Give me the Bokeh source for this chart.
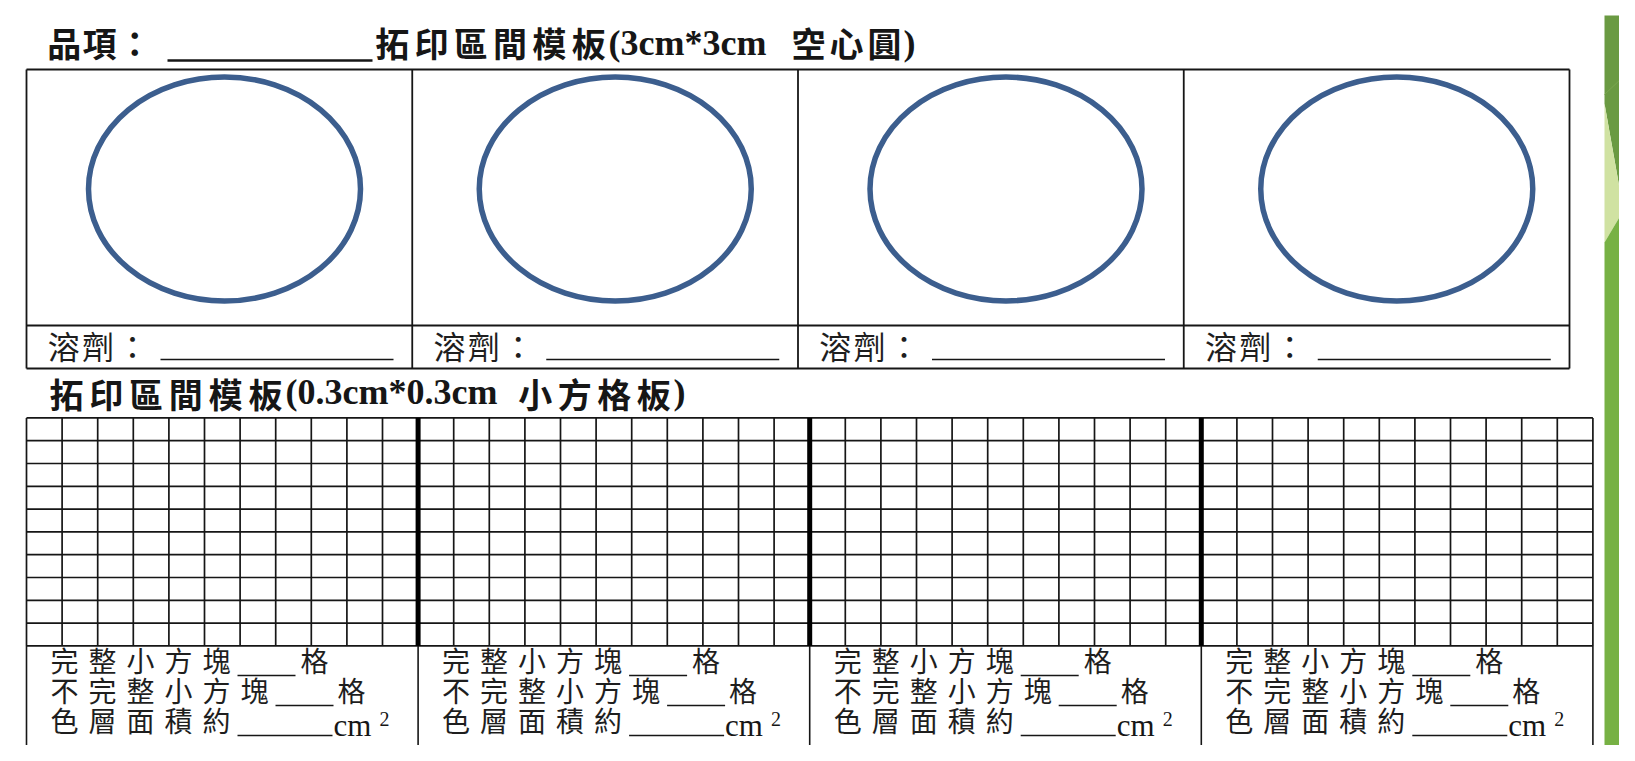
from bokeh.plotting import figure
from bokeh.models import Range1d
from bokeh.core.properties import value
from bokeh.embed import file_html
from bokeh.resources import INLINE

# ---------------- data (template content) ----------------
panel_ids = [1, 2, 3, 4]
grid_cols_per_panel = 11
grid_rows = 10
title_cjk_1 = "品項："
title_cjk_2 = "拓印區間模板"
title_latin = "(3cm*3cm"
title_cjk_3 = "空心圓)"
solvent_label = "溶劑："
grid_title_cjk_1 = "拓印區間模板"
grid_title_latin = "(0.3cm*0.3cm"
grid_title_cjk_2 = "小方格板)"
count_labels = ["完整小方塊", "不完整小方塊", "色層面積約"]
count_units = ["格", "格", "cm"]
area_unit_power = "2"

# ---------------- layout ----------------
W, H = 1619, 745
CJK = value("Noto Sans CJK TC")
SERIF = value("Liberation Serif")
INK = "#161616"
TXT = "#1e1e1e"

p = figure(width=W, height=H, x_range=Range1d(0, W), y_range=Range1d(H, 0),
           output_backend="svg", toolbar_location=None,
           x_axis_type=None, y_axis_type=None, min_border=0)
p.outline_line_color = None
p.background_fill_color = "white"
p.border_fill_color = "white"

n = len(panel_ids)


def spaced(s, x0, pitch, size):
    """place each character of a CJK run in its own cell of width pitch"""
    return [x0 + i * pitch + (pitch - size) / 2 for i in range(len(s))], list(s)


# green side decoration
p.patches(xs=[[1604, 1640, 1640, 1623, 1604],
              [1604, 1623, 1604],
              [1623, 1640, 1640],
              [1604, 1623, 1640, 1640, 1604]],
          ys=[[15, 15, 200, 210, 103],
              [103, 210, 242],
              [210, 195, 285],
              [242, 210, 285, 770, 770]],
          fill_color=["#6a9a42", "#d0e2a2", "#5b8f31", "#77b144"],
          line_color=None)
p.line(x=[1604, 1640], y=[94, 60], line_color="#7aa64f", line_width=1)

# ---- bold headings (CJK chars placed one per cell) ----
BS = 34
bx, by, bt = [], [], []
ty = 41.5
for s, x0, pitch in ((title_cjk_1, 46, 35.3), (title_cjk_2, 372, 39.3), (title_cjk_3[:-1], 789, 38)):
    xx, cc = spaced(s, x0, pitch, BS)
    bx += xx; bt += cc; by += [ty] * len(cc)
gty = 392.5
for s, x0, pitch in ((grid_title_cjk_1, 46, 39.8), (grid_title_cjk_2[:-1], 515, 39.5)):
    xx, cc = spaced(s, x0, pitch, BS)
    bx += xx; bt += cc; by += [gty] * len(cc)
p.text(x=bx, y=by, text=bt, text_font=CJK, text_font_style="bold",
       text_font_size=value(f"{BS}px"), text_color=INK, text_baseline="alphabetic")
p.line(x=[167, 372], y=[60, 60], line_color=INK, line_width=2.5)
p.text(x=[608, 903, 285, 673], y=[42, 42, 391, 391],
       text=[title_latin, title_cjk_3[-1], grid_title_latin, grid_title_cjk_2[-1]],
       text_font=SERIF, text_font_style="bold",
       text_font_size=value("36px"), text_color=INK, text_baseline="alphabetic")

# ---- top table with hollow circles ----
tx0, tx1, ty0, ty1, tym = 26, 1569, 69, 368, 325
col_w = (tx1 - tx0) / n
xs, ys = [], []
for yy in (ty0, tym, ty1):
    xs.append([tx0, tx1]); ys.append([yy, yy])
for i in range(n + 1):
    xx = tx0 + i * col_w
    xs.append([xx, xx]); ys.append([ty0, ty1])
p.multi_line(xs, ys, line_color=INK, line_width=1.8)

cx = [tx0 + i * col_w + 198 + 5 * i for i in range(n)]
p.ellipse(x=cx, y=[188.5] * n, width=272, height=224, fill_color=None,
          line_color="#3c5e8e", line_width=5.5)

SS = 32
sx, sy, st = [], [], []
for i in range(n):
    xx, cc = spaced(solvent_label, tx0 + i * col_w + 20, 34.4, SS)
    sx += xx; st += cc; sy += [344] * len(cc)
p.text(x=sx, y=sy, text=st, text_font=CJK, text_font_size=value(f"{SS}px"),
       text_color=TXT, text_baseline="alphabetic")
p.multi_line([[tx0 + i * col_w + 134, tx0 + i * col_w + 367] for i in range(n)],
             [[359, 359]] * n, line_color=INK, line_width=1.5)

# ---- grid board ----
gx0, cell_w, gy0, cell_h = 26, 35.6, 417.4, 22.8
ncols = n * grid_cols_per_panel
gx1 = gx0 + ncols * cell_w
gy1 = gy0 + grid_rows * cell_h
gxs, gys = [], []
for r in range(grid_rows + 1):
    yy = gy0 + r * cell_h
    gxs.append([gx0, gx1]); gys.append([yy, yy])
for c in range(ncols + 1):
    if c % grid_cols_per_panel == 0 and 0 < c < ncols:
        continue
    xx = gx0 + c * cell_w
    gxs.append([xx, xx]); gys.append([gy0, gy1])
p.multi_line(gxs, gys, line_color=INK, line_width=1.7)

panel_left = [gx0 + k * grid_cols_per_panel * cell_w for k in range(n)]
p.multi_line([[x, x] for x in panel_left[1:]], [[gy0, gy1]] * (n - 1),
             line_color="#000000", line_width=5)
p.multi_line([[x, x] for x in panel_left + [gx1]], [[gy1, 770]] * (n + 1),
             line_color=INK, line_width=1.6)

# ---- counting labels ----
RS = 28
base = [659, 689, 719]                # glyph y (ink centre ~ +3)
line_y = [675, 705, 735]              # underline / latin baseline
ul_start = [192, 230, 192]
ul_end = [250, 288, 287]
unit_dx = [255, 292, 288]
rx, ry, rt = [], [], []
cmx, cmy, cmt, cms = [], [], [], []
ulx, uly = [], []
for k in range(n):
    x0 = panel_left[k] + 19
    for j, lab in enumerate(count_labels):
        xx, cc = spaced(lab, x0, 38, RS)
        rx += xx; rt += cc; ry += [base[j]] * len(cc)
        ulx.append([x0 + ul_start[j], x0 + ul_end[j]]); uly.append([line_y[j], line_y[j]])
        if count_units[j] == "cm":
            cmx.append(x0 + unit_dx[j]); cmy.append(line_y[j] - 10); cmt.append(count_units[j]); cms.append("31px")
        else:
            rx.append(x0 + unit_dx[j]); ry.append(base[j]); rt.append(count_units[j])
    cmx.append(x0 + 334); cmy.append(line_y[2] - 17); cmt.append(area_unit_power); cms.append("20px")

p.text(x=rx, y=ry, text=rt, text_font=CJK, text_font_size=value(f"{RS}px"),
       text_color=TXT, text_baseline="alphabetic")
p.multi_line(ulx, uly, line_color=INK, line_width=1.5)
p.text(x=cmx, y=cmy, text=cmt, text_font=SERIF, text_font_size=cms,
       text_color=INK, text_baseline="alphabetic")

open("out.html", "w").write(file_html(p, INLINE))
